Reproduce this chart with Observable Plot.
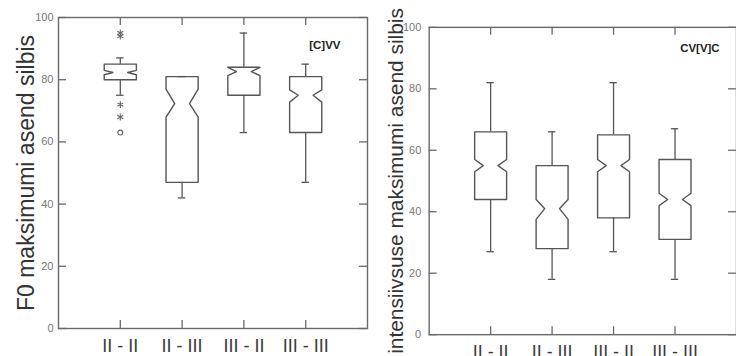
<!DOCTYPE html>
<html>
<head>
<meta charset="utf-8">
<script src="https://cdn.jsdelivr.net/npm/d3@7"></script>
<script src="https://cdn.jsdelivr.net/npm/@observablehq/plot@0.6"></script>
<style>
  html, body { margin: 0; padding: 0; background: #fff; }
  #wrap { position: relative; width: 736px; height: 356px; overflow: hidden; background: #fff; }
  #wrap > div { position: absolute; top: 0; }
</style>
</head>
<body>
<div id="wrap"><div id="left" style="left:0"></div><div id="right" style="left:368px"></div></div>
<script>
// ---- categories & ticks ----
const cats = ["II - II", "II - III", "III - II", "III - III"];
const catPos = [1, 2, 3, 4];
const yTicks = [0, 20, 40, 60, 80, 100];

// ---- left panel: F0 maksimumi asend silbis ----
const f0WhiskLo = [75, 42, 63, 47];
const f0Q1      = [80, 47, 75, 63];
const f0NotchLo = [81.6, 68, 81.3, 72.8];
const f0Median  = [82.3, 72.3, 82.6, 75];
const f0NotchHi = [83, 77, 84, 76.7];
const f0Q3      = [85, 81, 84, 81];
const f0WhiskHi = [87, 81, 95, 85];
const f0StarCat = [1, 1, 1, 1];
const f0StarVal = [94, 95, 72, 68];
const f0CircCat = [1];
const f0CircVal = [63];

// ---- right panel: intensiivsuse maksimumi asend silbis ----
const inWhiskLo = [27, 18, 27, 18];
const inQ1      = [44, 28, 38, 31];
const inNotchLo = [53, 37.5, 53, 42];
const inMedian  = [55, 41, 55, 44];
const inNotchHi = [57, 44, 57, 46];
const inQ3      = [66, 55, 65, 57];
const inWhiskHi = [82, 66, 82, 67];

const boxStroke = "#555";
const frameStroke = "#6a6a6a";

function makePanel(cfg) {
  const hw = 0.26, ins = 0.14, cap = 0.06;
  const tickXLen = 8 / 61.8, tickYLen = 8 / 3.1;
  const pts = [];
  catPos.forEach((c, i) => {
    const L = c - hw, R = c + hw;
    const poly = [
      [L, cfg.q3[i]], [L, cfg.hi[i]], [L + ins, cfg.med[i]], [L, cfg.lo[i]], [L, cfg.q1[i]],
      [R, cfg.q1[i]], [R, cfg.lo[i]], [R - ins, cfg.med[i]], [R, cfg.hi[i]], [R, cfg.q3[i]],
      [L, cfg.q3[i]]
    ];
    poly.forEach(([x, y]) => pts.push({box: i, x, y}));
  });
  const boxes = catPos.map((c, i) => ({
    c, wl: cfg.wl[i], q1: cfg.q1[i], q3: cfg.q3[i], wh: cfg.wh[i]
  }));
  const marks = [
    // inward ticks
    Plot.ruleY(yTicks, {x1: 0, x2: tickXLen, stroke: frameStroke, strokeWidth: 1.3}),
    Plot.ruleY(yTicks, {x1: 5, x2: 5 - tickXLen, stroke: frameStroke, strokeWidth: 1.3}),
    Plot.ruleX(catPos, {y1: 0, y2: tickYLen, stroke: frameStroke, strokeWidth: 1.3}),
    Plot.ruleX(catPos, {y1: 100, y2: 100 - tickYLen, stroke: frameStroke, strokeWidth: 1.3}),
    // whiskers
    Plot.ruleX(boxes, {x: "c", y1: "q3", y2: "wh", stroke: boxStroke, strokeWidth: 1.3}),
    Plot.ruleX(boxes, {x: "c", y1: "q1", y2: "wl", stroke: boxStroke, strokeWidth: 1.3}),
    Plot.ruleY(boxes, {y: "wh", x1: d => d.c - cap, x2: d => d.c + cap, stroke: boxStroke, strokeWidth: 1.3}),
    Plot.ruleY(boxes, {y: "wl", x1: d => d.c - cap, x2: d => d.c + cap, stroke: boxStroke, strokeWidth: 1.3}),
    // notched boxes
    Plot.line(pts, {x: "x", y: "y", z: "box", stroke: boxStroke, strokeWidth: 1.4, curve: "linear"}),
    Plot.frame({stroke: frameStroke, strokeWidth: 1.4}),
    Plot.axisY({ticks: yTicks, tickSize: 0, tickPadding: cfg.yPad, fontSize: 11, fill: "#777",
      fontFamily: "'Liberation Sans Narrow', 'Liberation Sans', Arial, sans-serif", label: null}),
    Plot.axisX({ticks: catPos, tickSize: 0, tickPadding: 11, fontSize: 18, fill: "#3a3a3a",
      tickFormat: d => cats[d - 1], label: null}),
    Plot.text([cfg.title], {frameAnchor: "left", dx: cfg.titleDx, rotate: -90, fontSize: cfg.titleSize,
      fill: "#333", textAnchor: "middle", lineAnchor: "middle"}),
    Plot.text([cfg.note], {frameAnchor: "top-right", dx: cfg.noteDx, dy: cfg.noteDy, fontSize: 11.5,
      fontWeight: "bold", fill: "#222", textAnchor: "end", lineAnchor: "middle"})
  ];
  if (cfg.stars) {
    marks.push(Plot.dot(cfg.stars.cat.map((c, i) => ({c, v: cfg.stars.val[i]})),
      {x: "c", y: "v", symbol: "asterisk", r: 3.2, stroke: "#666", strokeWidth: 1.1}));
  }
  if (cfg.circs) {
    marks.push(Plot.dot(cfg.circs.cat.map((c, i) => ({c, v: cfg.circs.val[i]})),
      {x: "c", y: "v", symbol: "circle", r: 2.4, stroke: "#666", fill: "white", strokeWidth: 1.1}));
  }
  return Plot.plot({
    width: 370,
    height: 356,
    marginLeft: cfg.ml,
    marginRight: 370 - cfg.ml - 309,
    marginTop: cfg.mt,
    marginBottom: cfg.mb,
    x: {domain: [0, 5], axis: null},
    y: {domain: [0, 100], axis: null},
    style: {fontFamily: "'Liberation Sans', Arial, sans-serif", background: "transparent", overflow: "visible"},
    marks
  });
}

document.getElementById("left").appendChild(makePanel({
  ml: 58, mt: 17, mb: 28, yPad: 5,
  wl: f0WhiskLo, q1: f0Q1, lo: f0NotchLo, med: f0Median, hi: f0NotchHi, q3: f0Q3, wh: f0WhiskHi,
  stars: {cat: f0StarCat, val: f0StarVal}, circs: {cat: f0CircCat, val: f0CircVal},
  title: "F0 maksimumi asend silbis", titleSize: 23, titleDx: -32,
  note: "[C]VV", noteDx: -27, noteDy: 28
}));
document.getElementById("right").appendChild(makePanel({
  ml: 61, mt: 27, mb: 20, yPad: 8,
  wl: inWhiskLo, q1: inQ1, lo: inNotchLo, med: inMedian, hi: inNotchHi, q3: inQ3, wh: inWhiskHi,
  title: "intensiivsuse maksimumi asend silbis", titleSize: 21, titleDx: -33,
  note: "CV[V]C", noteDx: -17, noteDy: 21
}));
</script>
</body>
</html>
